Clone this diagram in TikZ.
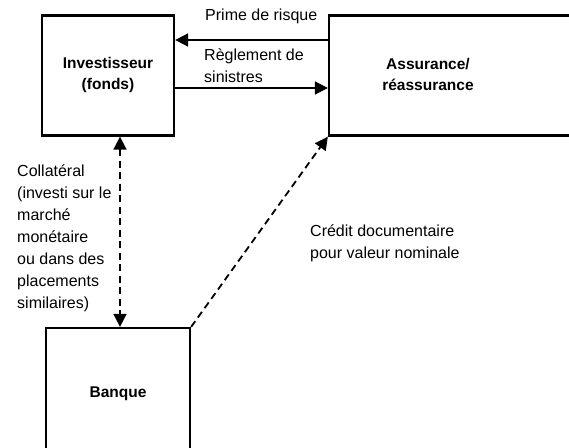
\documentclass[tikz,border=0pt]{standalone}
\usepackage{fontspec}
\setmainfont{Liberation Sans}
\usetikzlibrary{arrows.meta}
\begin{document}
\begin{tikzpicture}[x=1pt,y=-1pt,
  box/.style={draw=black,line width=2.3pt,rectangle,inner sep=0pt},
  boxlabel/.style={font=\fontsize{15.5}{21}\selectfont\bfseries,align=center,inner sep=0pt},
  lbl/.style={font=\fontsize{16}{22}\selectfont,align=left,inner sep=0pt,anchor=north west},
  tip/.style={},
  flow/.style={line width=1.8pt,-{Triangle[length=13pt,width=13pt]}},
  flowdash/.style={flow,dash pattern=on 7pt off 4.5pt}]
\useasboundingbox (0,0) rectangle (569,447);
\clip (0,0) rectangle (569,447);

% boxes
\node[box,minimum width=132pt,minimum height=120pt] (inv) at (108,75.5) {};
\node[boxlabel] (invtxt) at (108,74.5) {Investisseur\\(fonds)};
\node[box,minimum width=271pt,minimum height=120pt] (ass) at (464.5,75.5) {};
\node[boxlabel] (asstxt) at (428,74.5) {Assurance/\\réassurance};
\node[box,minimum width=144pt,minimum height=130pt] (bank) at (118,393) {};
\node[boxlabel] (banktxt) at (118,394) {Banque};

% helper coordinates for the horizontal flows
\coordinate (yprime) at (0,40);
\coordinate (yregl) at (0,88);
\coordinate (xcoll) at (120,0);

% flows between investor and insurer
\draw[flow] (ass.west |- yprime) -- (inv.east |- yprime);
\draw[flow] (inv.east |- yregl) -- (ass.west |- yregl);
\node[lbl] (lprime) at (205,9) {Prime de risque};
\node[lbl] (lregl) at (204,49) {Règlement de\\sinistres};

% collateral flow
\draw[flowdash,{Triangle[length=13pt,width=13pt]}-{Triangle[length=13pt,width=13pt]}]
  (xcoll |- inv.south) -- (xcoll |- bank.north);
\node[lbl] (lcoll) at (17,165) {Collatéral\\(investi sur le\\marché\\monétaire\\ou dans des\\placements\\similaires)};

% letter of credit
\draw[flowdash] (bank.north east) -- (ass.south west);
\node[lbl] (lcred) at (310,225) {Crédit documentaire\\pour valeur nominale};
\end{tikzpicture}
\end{document}
